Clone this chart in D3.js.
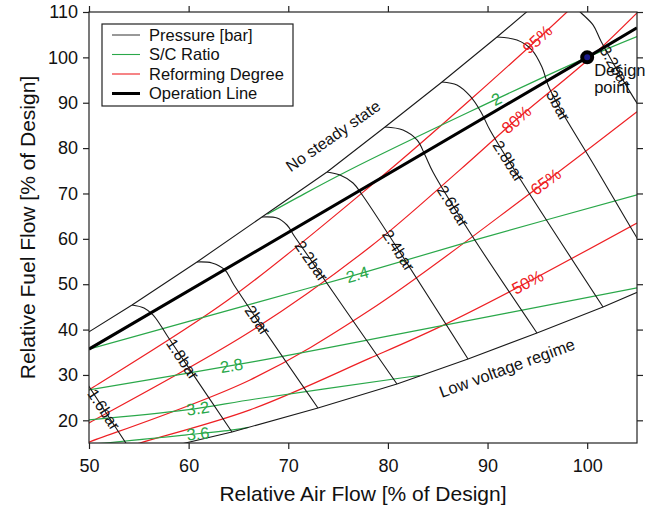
<!DOCTYPE html>
<html><head><meta charset="utf-8">
<script src="https://cdn.jsdelivr.net/npm/d3@7"></script>
<style>
body{margin:0;background:#fff;}
svg{display:block;font-family:Arial,"Liberation Sans",Helvetica,sans-serif;}
</style></head><body>
<svg id="chart" width="655" height="509"></svg>
<script>
// Axis ticks
const xTicks = [50, 60, 70, 80, 90, 100];
const yTicks = [20, 30, 40, 50, 60, 70, 80, 90, 100, 110];

// Operating window boundaries [air %, fuel %]
const upperBoundary = [[46.38,34.54],[50,39.5],[54.32,45.42],[60.84,54.9],[67.36,64.82],[73.89,74.73],[79.71,84.65],[85.43,94.57],[90.95,104.49],[95.9,113.7]];
const lowerBoundary = [[54.5,12.3],[64.35,17.43],[72.98,22.72],[80.91,28.01],[88.04,33.52],[94.96,39.25],[101.59,44.98],[106.5,49.6]];

// Isobars
const pressureLevels = ["1.6bar","1.8bar","2bar","2.2bar","2.4bar","2.6bar","2.8bar","3bar","3.2bar"];
const isobars = [
  [[46.38,34.54],[47.58,33.88],[48.48,32.34],[49.29,29.91],[49.99,27.49],[54.5,12.3]],
  [[54.32,45.42],[55.52,44.76],[56.42,43.22],[57.23,40.79],[57.93,38.37],[64.35,17.43]],
  [[60.84,54.9],[62.34,54.68],[63.65,53.13],[64.55,49.83],[72.98,22.72]],
  [[67.36,64.82],[68.87,64.6],[69.87,63.05],[70.67,60.41],[80.91,28.01]],
  [[73.89,74.73],[75.19,74.07],[76.5,72.31],[77.5,69.44],[88.04,33.52]],
  [[79.71,84.65],[81.51,83.99],[82.92,81.79],[83.72,78.48],[84.52,74.73],[87.94,62.39],[94.96,39.25]],
  [[85.43,94.57],[86.93,93.91],[88.24,91.49],[89.34,87.96],[90.24,83.99],[93.46,72.53],[101.59,44.98]],
  [[90.95,104.49],[92.95,103.83],[94.46,101.62],[95.46,97.88],[96.07,93.91],[97.07,89.5],[100.98,75.18],[105,60.19],[106.5,55.0]],
  [[95.9,113.7],[97.8,113.2],[99.3,110.0],[100.6,107.1],[101.4,103.5],[104.3,92.4],[106,86.5]]
];

// Steam-to-carbon ratio lines
const scLevels = ["2","2.4","2.8","3.2","3.6"];
const scLines = [
  [[67.9,65.44],[71,69.2],[75.9,74.9],[88.2,88.0],[100,100],[105,104.6]],
  [[50,35.7],[66.7,45.9],[75.9,51.5],[88.5,59.6],[105,69.7]],
  [[50,26.7],[66.7,33.0],[82.2,39.5],[105,49.2]],
  [[50,20.1],[59.8,22.3],[66.7,24.7],[82.2,29.6],[83.2,29.85]],
  [[48,14.4],[51.6,15],[59.8,16.8],[64.45,17.9],[66.0,18.45]]
];

// Reforming degree lines
const reformingLevels = ["95%","80%","65%","50%"];
const reformingLines = [
  [[48,23.9],[50,26.7],[63.95,46.5],[79.2,73.4],[88.24,90.6],[97.97,110],[99,112.2]],
  [[48,17],[50,19.4],[66.16,39.5],[78.2,58.2],[87.23,75.2],[92.95,86.4],[100,99.3],[105,109.8]],
  [[48,13.6],[50,15.2],[66.16,28.9],[78.2,44.3],[94.56,70.5],[105,88.0]],
  [[52,12.95],[55.1,15.0],[66.16,22.3],[78.2,33.7],[85.2,40.6],[92.25,48.4],[105,63.5]]
];

// Operation line and design point
const operationLine = [[50,35.7],[100,100],[105,106.5]];
const designPoint = [100, 100];

// Where each contour label sits along its line (air %, fuel %)
const isobarLabelAt = [[51.3,22.06],[59.13,33.08],[66.66,41.67],[72.18,54.9],[80.61,56.88],[86.43,67.02],[92.05,76.94],[96.97,89.28],[102.59,97.66]];
const scLabelAt = [[90.95,90.6],[77.0,51.81],[64.35,31.53],[60.94,22.28],[60.94,16.99]];
const reformingLabelAt = [[95.06,103.83],[93.05,85.98],[96.07,71.87],[94.06,50.27]];

const W = 655, H = 509, m = {l: 89, t: 12, r: 18, b: 66};
const BLACK = "#1a1a1a", RED = "#ee2024", GREEN = "#2aa84a";
const svg = d3.select("#chart");
const x = d3.scaleLinear().domain([50, 105]).range([m.l, W - m.r]);
const y = d3.scaleLinear().domain([15, 110]).range([H - m.b, m.t]);

svg.append("defs").append("clipPath").attr("id", "plot")
  .append("rect").attr("x", x(50)).attr("y", y(110))
  .attr("width", x(105) - x(50)).attr("height", y(15) - y(110));

const smooth = d3.line().x(d => x(d[0])).y(d => y(d[1])).curve(d3.curveCatmullRom.alpha(0.5));
const straight = d3.line().x(d => x(d[0])).y(d => y(d[1]));

const plot = svg.append("g").attr("clip-path", "url(#plot)");

function drawSet(data, gen, color, width) {
  return data.map(pts => plot.append("path").attr("d", gen(pts))
    .attr("fill", "none").attr("stroke", color).attr("stroke-width", width)
    .attr("stroke-linejoin", "round").node());
}

const redPaths = drawSet(reformingLines, smooth, RED, 1.2);
const greenPaths = drawSet(scLines, smooth, GREEN, 1.2);
drawSet([upperBoundary, lowerBoundary], straight, BLACK, 1.1);
const isoPaths = drawSet(isobars, smooth, BLACK, 1.1);
drawSet([operationLine], straight, "#000", 3);

// Contour labels aligned with their lines
function labelOnPath(node, tx, ty) {
  const L = node.getTotalLength();
  let best = 0, bd = Infinity;
  for (let s = 0; s <= L; s += 0.5) {
    const p = node.getPointAtLength(s);
    const d = (p.x - tx) ** 2 + (p.y - ty) ** 2;
    if (d < bd) { bd = d; best = s; }
  }
  const a = node.getPointAtLength(Math.max(0, best - 5));
  const b = node.getPointAtLength(Math.min(L, best + 5));
  let ang = Math.atan2(b.y - a.y, b.x - a.x) * 180 / Math.PI;
  if (ang > 90) ang -= 180;
  if (ang < -90) ang += 180;
  const p = node.getPointAtLength(best);
  return {x: p.x, y: p.y, ang};
}

function drawLabels(paths, texts, at, color, size) {
  paths.forEach((node, i) => {
    const pos = labelOnPath(node, x(at[i][0]), y(at[i][1]));
    svg.append("text")
      .attr("transform", `translate(${pos.x},${pos.y}) rotate(${pos.ang})`)
      .attr("text-anchor", "middle").attr("dy", "0.35em")
      .attr("font-size", size).attr("fill", color).text(texts[i]);
  });
}
drawLabels(isoPaths, pressureLevels, isobarLabelAt, "#111", 16);
drawLabels(redPaths, reformingLevels, reformingLabelAt, RED, 16.5);
drawLabels(greenPaths, scLevels, scLabelAt, GREEN, 16.5);

// Region annotations
svg.append("text").attr("transform", `translate(${x(74.49)},${y(82.67)}) rotate(-35)`)
  .attr("text-anchor", "middle").attr("dy", "0.35em").attr("font-size", 16).attr("fill", "#111")
  .text("No steady state");
svg.append("text").attr("transform", `translate(${x(91.95)},${y(31.53)}) rotate(-20)`)
  .attr("text-anchor", "middle").attr("dy", "0.35em").attr("font-size", 16.5).attr("fill", "#111")
  .text("Low voltage regime");

// Design point
svg.append("circle").attr("cx", x(designPoint[0])).attr("cy", y(designPoint[1]))
  .attr("r", 5).attr("fill", "#1a1a8c").attr("stroke", "#000").attr("stroke-width", 4);
const dp = svg.append("text").attr("font-size", 16.5).attr("fill", "#111");
dp.append("tspan").attr("x", x(designPoint[0]) + 7).attr("y", y(designPoint[1]) + 19).text("Design");
dp.append("tspan").attr("x", x(designPoint[0]) + 7).attr("y", y(designPoint[1]) + 36).text("point");

// Frame and axes
svg.append("rect").attr("x", x(50)).attr("y", y(110))
  .attr("width", x(105) - x(50)).attr("height", y(15) - y(110))
  .attr("fill", "none").attr("stroke", "#222").attr("stroke-width", 1.2);

function styleAxis(g) {
  g.select(".domain").remove();
  g.selectAll("line").attr("stroke", "#222").attr("stroke-width", 1.2);
  g.selectAll("text").attr("font-size", 18).attr("fill", "#111")
    .attr("font-family", "Arial, 'Liberation Sans', Helvetica, sans-serif");
}
svg.append("g").attr("transform", `translate(0,${y(15)})`)
  .call(d3.axisBottom(x).tickValues(xTicks).tickSize(6).tickPadding(10)).call(styleAxis);
svg.append("g").attr("transform", `translate(0,${y(110)})`)
  .call(d3.axisTop(x).tickValues(xTicks).tickSize(6).tickFormat("")).call(styleAxis);
svg.append("g").attr("transform", `translate(${x(50)},0)`)
  .call(d3.axisLeft(y).tickValues(yTicks).tickSize(6).tickPadding(5)).call(styleAxis);
svg.append("g").attr("transform", `translate(${x(105)},0)`)
  .call(d3.axisRight(y).tickValues(yTicks).tickSize(6).tickFormat("")).call(styleAxis);

svg.append("text").attr("x", (x(50) + x(105)) / 2).attr("y", 501)
  .attr("text-anchor", "middle").attr("font-size", 21).attr("fill", "#111")
  .text("Relative Air Flow [% of Design]");
svg.append("text").attr("transform", `translate(35,${(y(15) + y(110)) / 2}) rotate(-90)`)
  .attr("text-anchor", "middle").attr("font-size", 21).attr("fill", "#111")
  .text("Relative Fuel Flow [% of Design]");

// Legend
const legendItems = [
  {label: "Pressure [bar]", color: "#333", width: 1},
  {label: "S/C Ratio", color: GREEN, width: 1.1},
  {label: "Reforming Degree", color: RED, width: 1.1},
  {label: "Operation Line", color: "#000", width: 3}
];
const lg = svg.append("g");
lg.append("rect").attr("x", 102).attr("y", 24).attr("width", 191).attr("height", 82)
  .attr("fill", "#fff").attr("stroke", "#222").attr("stroke-width", 1.2);
legendItems.forEach((d, i) => {
  const cy = 35 + i * 19.5;
  lg.append("line").attr("x1", 112).attr("x2", 140).attr("y1", cy).attr("y2", cy)
    .attr("stroke", d.color).attr("stroke-width", d.width);
  lg.append("text").attr("x", 149).attr("y", cy).attr("dy", "0.36em")
    .attr("font-size", 16.5).attr("fill", "#111").text(d.label);
});
</script>
</body></html>
